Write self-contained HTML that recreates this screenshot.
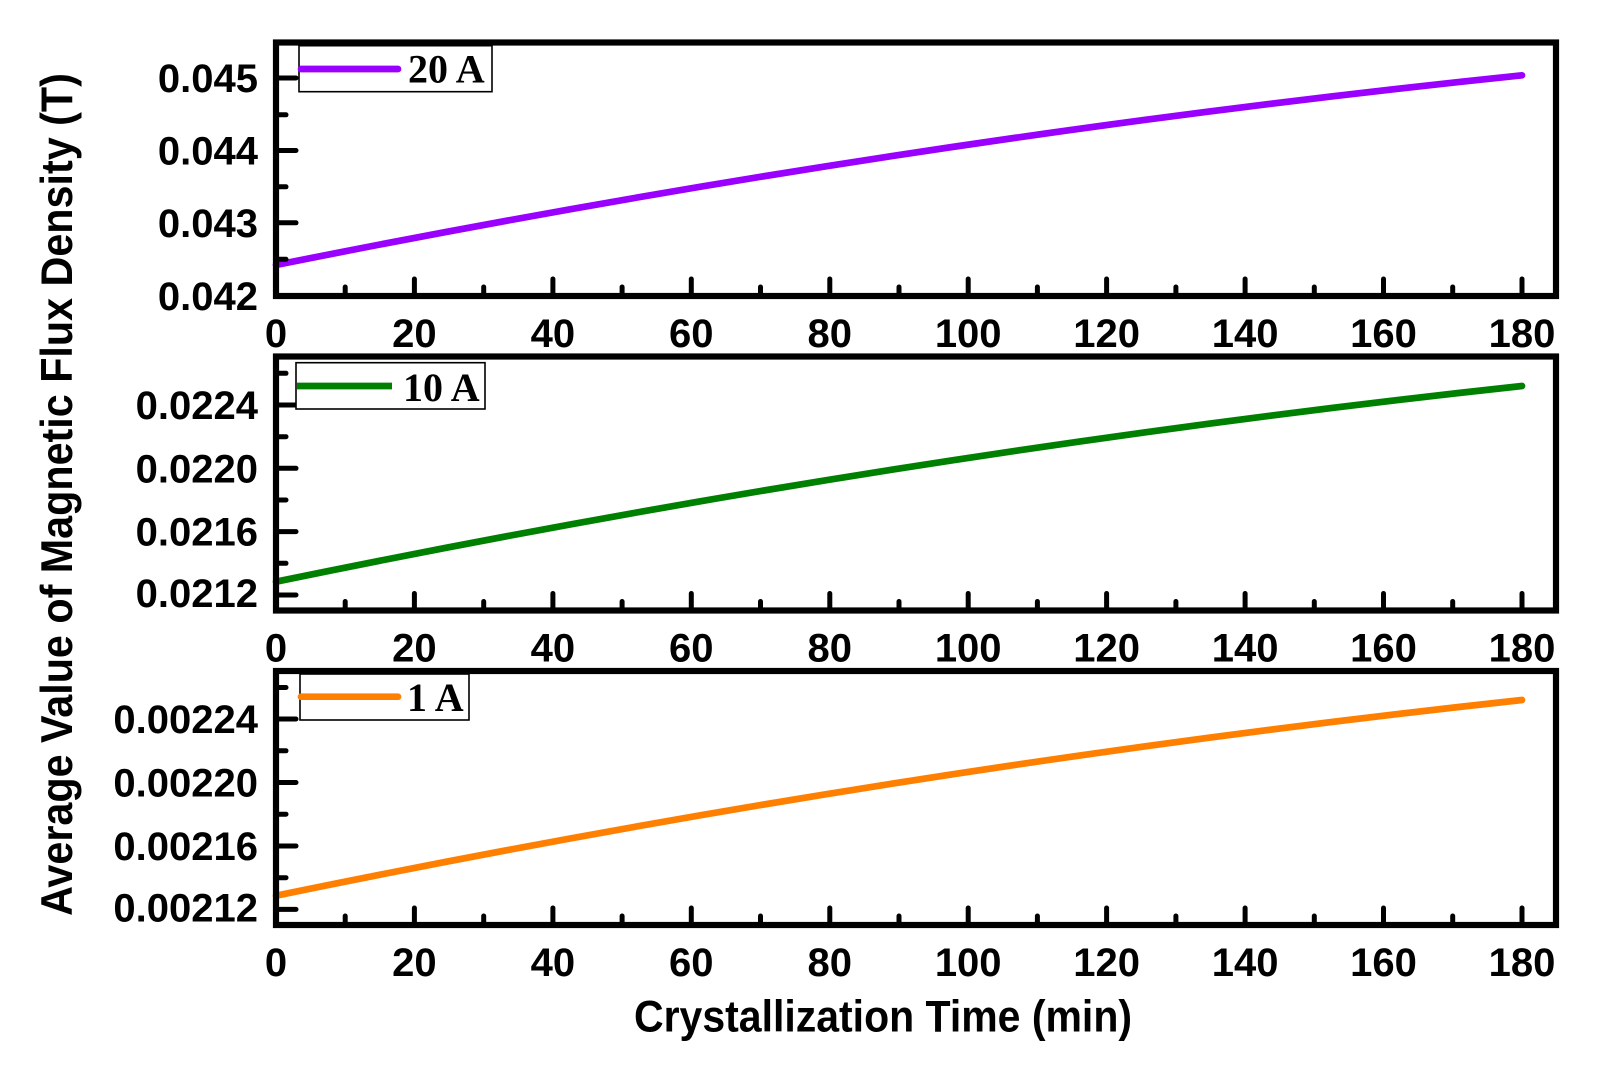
<!DOCTYPE html>
<html>
<head>
<meta charset="utf-8">
<style>
html,body{margin:0;padding:0;background:#fff;}
svg{display:block;}
.tl{font-family:"Liberation Sans",Arial,sans-serif;font-weight:bold;font-size:40px;fill:#000;}
.tt{font-family:"Liberation Sans",Arial,sans-serif;font-weight:bold;font-size:41px;fill:#000;}
.ty{font-family:"Liberation Sans",Arial,sans-serif;font-weight:bold;font-size:41.3px;fill:#000;}
.lg{font-family:"Liberation Serif","Times New Roman",serif;font-weight:bold;font-size:40px;fill:#000;}
</style>
</head>
<body>
<svg width="1611" height="1077" viewBox="0 0 1611 1077" xmlns="http://www.w3.org/2000/svg">
<rect x="0" y="0" width="1611" height="1077" fill="#fff"/>

<path d="M276,265 Q899,139.8 1522,75.3" fill="none" stroke="#9900ff" stroke-width="6.7" stroke-linecap="round"/>
<path d="M276,581.7 Q899,453.3 1522,386" fill="none" stroke="#008000" stroke-width="6.7" stroke-linecap="round"/>
<path d="M276,895.7 Q899,767.3 1522,700" fill="none" stroke="#ff8000" stroke-width="6.7" stroke-linecap="round"/>

<g fill="none" stroke="#000" stroke-width="6.2">
<rect x="276" y="42.5" width="1280" height="253.5"/>
<rect x="276" y="356.5" width="1280" height="254"/>
<rect x="276" y="671" width="1280" height="254"/>
</g>

<g stroke="#000" stroke-width="5" stroke-linecap="round">
<line x1="414.4" y1="296" x2="414.4" y2="279"/>
<line x1="552.9" y1="296" x2="552.9" y2="279"/>
<line x1="691.3" y1="296" x2="691.3" y2="279"/>
<line x1="829.8" y1="296" x2="829.8" y2="279"/>
<line x1="968.2" y1="296" x2="968.2" y2="279"/>
<line x1="1106.6" y1="296" x2="1106.6" y2="279"/>
<line x1="1245.1" y1="296" x2="1245.1" y2="279"/>
<line x1="1383.5" y1="296" x2="1383.5" y2="279"/>
<line x1="1522" y1="296" x2="1522" y2="279"/>
<line x1="345.2" y1="296" x2="345.2" y2="287"/>
<line x1="483.7" y1="296" x2="483.7" y2="287"/>
<line x1="622.1" y1="296" x2="622.1" y2="287"/>
<line x1="760.5" y1="296" x2="760.5" y2="287"/>
<line x1="899" y1="296" x2="899" y2="287"/>
<line x1="1037.4" y1="296" x2="1037.4" y2="287"/>
<line x1="1175.9" y1="296" x2="1175.9" y2="287"/>
<line x1="1314.3" y1="296" x2="1314.3" y2="287"/>
<line x1="1452.7" y1="296" x2="1452.7" y2="287"/>
<line x1="276" y1="78" x2="296" y2="78"/>
<line x1="276" y1="150.5" x2="296" y2="150.5"/>
<line x1="276" y1="222.8" x2="296" y2="222.8"/>
<line x1="276" y1="114.8" x2="286" y2="114.8"/>
<line x1="276" y1="186.8" x2="286" y2="186.8"/>
<line x1="276" y1="259.3" x2="286" y2="259.3"/>

<line x1="414.4" y1="610.5" x2="414.4" y2="593.5"/>
<line x1="552.9" y1="610.5" x2="552.9" y2="593.5"/>
<line x1="691.3" y1="610.5" x2="691.3" y2="593.5"/>
<line x1="829.8" y1="610.5" x2="829.8" y2="593.5"/>
<line x1="968.2" y1="610.5" x2="968.2" y2="593.5"/>
<line x1="1106.6" y1="610.5" x2="1106.6" y2="593.5"/>
<line x1="1245.1" y1="610.5" x2="1245.1" y2="593.5"/>
<line x1="1383.5" y1="610.5" x2="1383.5" y2="593.5"/>
<line x1="1522" y1="610.5" x2="1522" y2="593.5"/>
<line x1="345.2" y1="610.5" x2="345.2" y2="601.5"/>
<line x1="483.7" y1="610.5" x2="483.7" y2="601.5"/>
<line x1="622.1" y1="610.5" x2="622.1" y2="601.5"/>
<line x1="760.5" y1="610.5" x2="760.5" y2="601.5"/>
<line x1="899" y1="610.5" x2="899" y2="601.5"/>
<line x1="1037.4" y1="610.5" x2="1037.4" y2="601.5"/>
<line x1="1175.9" y1="610.5" x2="1175.9" y2="601.5"/>
<line x1="1314.3" y1="610.5" x2="1314.3" y2="601.5"/>
<line x1="1452.7" y1="610.5" x2="1452.7" y2="601.5"/>
<line x1="276" y1="405" x2="296" y2="405"/>
<line x1="276" y1="468.3" x2="296" y2="468.3"/>
<line x1="276" y1="531.6" x2="296" y2="531.6"/>
<line x1="276" y1="595" x2="296" y2="595"/>
<line x1="276" y1="373.3" x2="286" y2="373.3"/>
<line x1="276" y1="436.7" x2="286" y2="436.7"/>
<line x1="276" y1="500" x2="286" y2="500"/>
<line x1="276" y1="563.3" x2="286" y2="563.3"/>

<line x1="414.4" y1="925" x2="414.4" y2="908"/>
<line x1="552.9" y1="925" x2="552.9" y2="908"/>
<line x1="691.3" y1="925" x2="691.3" y2="908"/>
<line x1="829.8" y1="925" x2="829.8" y2="908"/>
<line x1="968.2" y1="925" x2="968.2" y2="908"/>
<line x1="1106.6" y1="925" x2="1106.6" y2="908"/>
<line x1="1245.1" y1="925" x2="1245.1" y2="908"/>
<line x1="1383.5" y1="925" x2="1383.5" y2="908"/>
<line x1="1522" y1="925" x2="1522" y2="908"/>
<line x1="345.2" y1="925" x2="345.2" y2="916"/>
<line x1="483.7" y1="925" x2="483.7" y2="916"/>
<line x1="622.1" y1="925" x2="622.1" y2="916"/>
<line x1="760.5" y1="925" x2="760.5" y2="916"/>
<line x1="899" y1="925" x2="899" y2="916"/>
<line x1="1037.4" y1="925" x2="1037.4" y2="916"/>
<line x1="1175.9" y1="925" x2="1175.9" y2="916"/>
<line x1="1314.3" y1="925" x2="1314.3" y2="916"/>
<line x1="1452.7" y1="925" x2="1452.7" y2="916"/>
<line x1="276" y1="719" x2="296" y2="719"/>
<line x1="276" y1="782.5" x2="296" y2="782.5"/>
<line x1="276" y1="846" x2="296" y2="846"/>
<line x1="276" y1="909.4" x2="296" y2="909.4"/>
<line x1="276" y1="687.5" x2="286" y2="687.5"/>
<line x1="276" y1="750.8" x2="286" y2="750.8"/>
<line x1="276" y1="814.2" x2="286" y2="814.2"/>
<line x1="276" y1="877.7" x2="286" y2="877.7"/>
</g>

<g class="tl" text-anchor="middle">
<text x="276" y="347">0</text><text x="414.4" y="347">20</text><text x="552.9" y="347">40</text>
<text x="691.3" y="347">60</text><text x="829.8" y="347">80</text><text x="968.2" y="347">100</text>
<text x="1106.6" y="347">120</text><text x="1245.1" y="347">140</text><text x="1383.5" y="347">160</text>
<text x="1522" y="347">180</text>
<text x="276" y="661.5">0</text><text x="414.4" y="661.5">20</text><text x="552.9" y="661.5">40</text>
<text x="691.3" y="661.5">60</text><text x="829.8" y="661.5">80</text><text x="968.2" y="661.5">100</text>
<text x="1106.6" y="661.5">120</text><text x="1245.1" y="661.5">140</text><text x="1383.5" y="661.5">160</text>
<text x="1522" y="661.5">180</text>
<text x="276" y="976">0</text><text x="414.4" y="976">20</text><text x="552.9" y="976">40</text>
<text x="691.3" y="976">60</text><text x="829.8" y="976">80</text><text x="968.2" y="976">100</text>
<text x="1106.6" y="976">120</text><text x="1245.1" y="976">140</text><text x="1383.5" y="976">160</text>
<text x="1522" y="976">180</text>
</g>

<g class="tl" text-anchor="end">
<text x="258" y="92">0.045</text>
<text x="258" y="164.5">0.044</text>
<text x="258" y="236.8">0.043</text>
<text x="258" y="310">0.042</text>
<text x="258" y="419">0.0224</text>
<text x="258" y="482.3">0.0220</text>
<text x="258" y="545.6">0.0216</text>
<text x="258" y="607">0.0212</text>
<text x="258" y="733">0.00224</text>
<text x="258" y="796.5">0.00220</text>
<text x="258" y="860">0.00216</text>
<text x="258" y="921.5">0.00212</text>
</g>

<rect x="299" y="45.7" width="193" height="46" fill="#fff" stroke="#000" stroke-width="1.6"/>
<line x1="301" y1="69" x2="398" y2="69" stroke="#9900ff" stroke-width="6.7" stroke-linecap="round"/>
<text class="lg" x="408" y="82.7">20 A</text>

<rect x="296" y="362.7" width="189" height="46.3" fill="#fff" stroke="#000" stroke-width="1.6"/>
<line x1="297" y1="386" x2="392" y2="386" stroke="#008000" stroke-width="6.7" stroke-linecap="butt"/>
<text class="lg" x="403" y="401">10 A</text>

<rect x="300" y="674" width="169" height="46" fill="#fff" stroke="#000" stroke-width="1.6"/>
<line x1="301" y1="696.7" x2="398" y2="696.7" stroke="#ff8000" stroke-width="6.7" stroke-linecap="round"/>
<text class="lg" x="407" y="711">1 A</text>

<text class="tt" text-anchor="middle" transform="translate(883,1031.7) scale(1,1.08)" x="0" y="0">Crystallization Time (min)</text>
<text class="ty" text-anchor="middle" transform="translate(72,494.5) rotate(-90) scale(1,1.08)" x="0" y="0">Average Value of Magnetic Flux Density (T)</text>
</svg>
</body>
</html>
